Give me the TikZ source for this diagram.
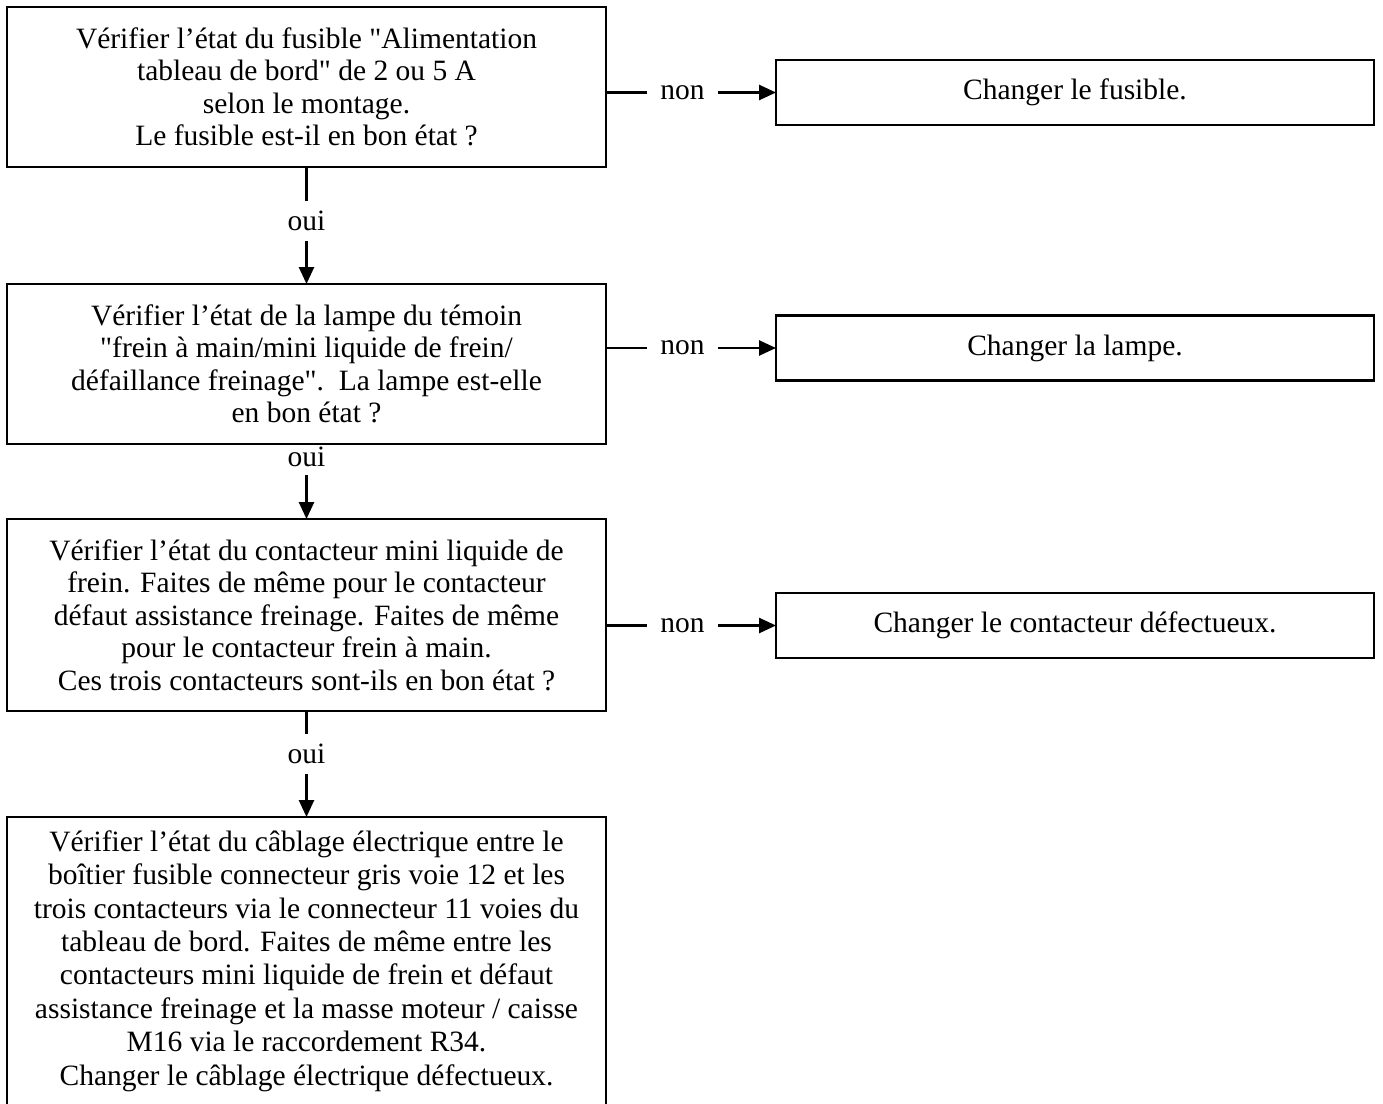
\documentclass[tikz,border=0pt]{standalone}
\usepackage{fontspec}
\newfontfamily\lserif{Liberation Serif}
\usetikzlibrary{arrows.meta}
\begin{document}
\begin{tikzpicture}[x=1pt,y=-1pt,
  box/.style={draw, line width=2.6pt, outer sep=0pt, inner sep=0pt, minimum width=599pt, align=center,
    font=\lserif\fontsize{29.5}{32.5}\selectfont},
  rbox/.style={box, minimum width=598pt, minimum height=65pt},
  txt/.style={align=center, inner sep=0pt, font=\lserif\fontsize{29.5}{33.4}\selectfont},
  arr/.style={line width=2.6pt, -{Triangle[length=17pt,width=15pt]}},
  lbl/.style={fill=white, inner xsep=13pt, inner ysep=10pt, font=\lserif\fontsize{29.5}{32.5}\selectfont},
  plainlbl/.style={inner sep=0pt, font=\lserif\fontsize{29.5}{32.5}\selectfont}
]
\useasboundingbox (0,0) rectangle (1383,1103);

\node[box, minimum height=160pt] (b1) at (306.5,87)
  {Vérifier l’état du fusible "Alimentation\\tableau de bord" de 2 ou 5 A\\selon le montage.\\Le fusible est-il en bon état~?};
\node[box, minimum height=160pt] (b2) at (306.5,364)
  {Vérifier l’état de la lampe du témoin\\ "frein à main/mini liquide de frein/\\défaillance freinage".\ \ La lampe est-elle\\en bon état~?};
\node[box, minimum height=192pt] (b3) at (306.5,615)
  {Vérifier l’état du contacteur mini liquide de\\frein. Faites de même pour le contacteur\\défaut assistance freinage. Faites de même\\pour le contacteur frein à main.\\Ces trois contacteurs sont-ils en bon état~?};
\node[box, minimum height=310pt, anchor=north] (b4) at (306.5,817) {};
\node[txt] (t4) at (306.5,961)
  {Vérifier l’état du câblage électrique entre le\\boîtier fusible connecteur gris voie 12 et les\\trois contacteurs via le connecteur 11 voies du\\tableau de bord. Faites de même entre les\\contacteurs mini liquide de frein et défaut\\assistance freinage et la masse moteur / caisse\\M16 via le raccordement R34.\\Changer le câblage électrique défectueux.};

\node[rbox] (r1) at (1075,92.5) {Changer le fusible.};
\node[rbox] (r2) at (1075,348) {Changer la lampe.};
\node[rbox] (r3) at (1075,625.5) {Changer le contacteur défectueux.};

\draw[arr] (b1.east |- r1.west) -- node[lbl, pos=0.45] {non} (r1.west);
\draw[arr] (b2.east |- r2.west) -- node[lbl, pos=0.45] {non} (r2.west);
\draw[arr] (b3.east |- r3.west) -- node[lbl, pos=0.45] {non} (r3.west);

\draw[arr] (b1.south) -- node[lbl, pos=0.4615] {oui} (b2.north);
\draw[arr, shorten <=31pt] (b2.south) -- node[plainlbl, pos=0.167] {oui} (b3.north);
\draw[arr] (b3.south) -- node[lbl, pos=0.406] {oui} (b4.north);
\end{tikzpicture}
\end{document}
